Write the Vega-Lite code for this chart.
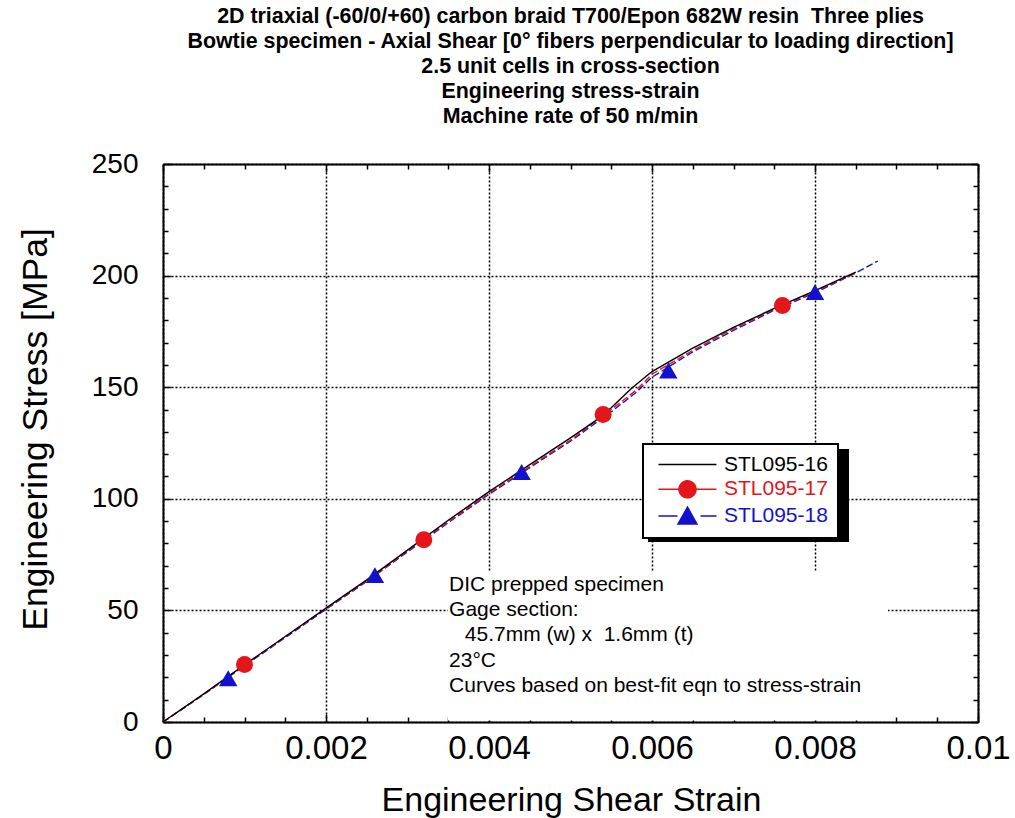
{
  "$schema": "https://vega.github.io/schema/vega-lite/v6.json",
  "width": 815,
  "height": 558,
  "autosize": {"type": "none"},
  "padding": {"left": 163, "top": 164, "right": 37, "bottom": 96},
  "background": "white",
  "config": {"view": {"stroke": null}, "font": "Liberation Sans"},
  "title": {
    "text": [
      "2D triaxial (-60/0/+60) carbon braid T700/Epon 682W resin\u00a0 Three plies",
      "Bowtie specimen - Axial Shear [0° fibers perpendicular to loading direction]",
      "2.5 unit cells in cross-section",
      "Engineering stress-strain",
      "Machine rate of 50 m/min"
    ],
    "font": "Liberation Sans",
    "fontSize": 21.4,
    "fontWeight": "bold",
    "lineHeight": 24.8,
    "anchor": "middle",
    "frame": "group",
    "offset": 23,
    "color": "black"
  },
  "datasets": {
    "curves": [
      {"series": "STL095-18", "strain": 0, "stress": 0},
      {"series": "STL095-18", "strain": 0.0005, "stress": 12.3},
      {"series": "STL095-18", "strain": 0.001, "stress": 25.2},
      {"series": "STL095-18", "strain": 0.0015, "stress": 37.8},
      {"series": "STL095-18", "strain": 0.002, "stress": 50.5},
      {"series": "STL095-18", "strain": 0.0025, "stress": 63},
      {"series": "STL095-18", "strain": 0.003, "stress": 76.2},
      {"series": "STL095-18", "strain": 0.0035, "stress": 89.3},
      {"series": "STL095-18", "strain": 0.004, "stress": 102},
      {"series": "STL095-18", "strain": 0.0045, "stress": 114},
      {"series": "STL095-18", "strain": 0.005, "stress": 125.8},
      {"series": "STL095-18", "strain": 0.0055, "stress": 139},
      {"series": "STL095-18", "strain": 0.0058, "stress": 147.5},
      {"series": "STL095-18", "strain": 0.006, "stress": 154.5},
      {"series": "STL095-18", "strain": 0.0065, "stress": 165.8},
      {"series": "STL095-18", "strain": 0.007, "stress": 175.5},
      {"series": "STL095-18", "strain": 0.0075, "stress": 184.5},
      {"series": "STL095-18", "strain": 0.008, "stress": 192.3},
      {"series": "STL095-18", "strain": 0.0085, "stress": 201.2},
      {"series": "STL095-18", "strain": 0.00877, "stress": 206.5},
      {"series": "STL095-17", "strain": 0, "stress": 0},
      {"series": "STL095-17", "strain": 0.0005, "stress": 12.4},
      {"series": "STL095-17", "strain": 0.001, "stress": 25.5},
      {"series": "STL095-17", "strain": 0.0015, "stress": 38.2},
      {"series": "STL095-17", "strain": 0.002, "stress": 50.8},
      {"series": "STL095-17", "strain": 0.0025, "stress": 63.3},
      {"series": "STL095-17", "strain": 0.003, "stress": 76.6},
      {"series": "STL095-17", "strain": 0.0035, "stress": 89.8},
      {"series": "STL095-17", "strain": 0.004, "stress": 102.5},
      {"series": "STL095-17", "strain": 0.0045, "stress": 114.5},
      {"series": "STL095-17", "strain": 0.005, "stress": 126.3},
      {"series": "STL095-17", "strain": 0.0055, "stress": 140},
      {"series": "STL095-17", "strain": 0.0058, "stress": 148.5},
      {"series": "STL095-17", "strain": 0.006, "stress": 155.8},
      {"series": "STL095-17", "strain": 0.0065, "stress": 166.5},
      {"series": "STL095-17", "strain": 0.007, "stress": 176.2},
      {"series": "STL095-17", "strain": 0.0075, "stress": 185},
      {"series": "STL095-17", "strain": 0.008, "stress": 192.8},
      {"series": "STL095-17", "strain": 0.0085, "stress": 201.3},
      {"series": "STL095-16", "strain": 0, "stress": 0},
      {"series": "STL095-16", "strain": 0.0005, "stress": 12.6},
      {"series": "STL095-16", "strain": 0.001, "stress": 25.6},
      {"series": "STL095-16", "strain": 0.0015, "stress": 38.3},
      {"series": "STL095-16", "strain": 0.002, "stress": 51},
      {"series": "STL095-16", "strain": 0.0025, "stress": 63.7},
      {"series": "STL095-16", "strain": 0.003, "stress": 77},
      {"series": "STL095-16", "strain": 0.0035, "stress": 90.4},
      {"series": "STL095-16", "strain": 0.004, "stress": 103.2},
      {"series": "STL095-16", "strain": 0.0045, "stress": 115.3},
      {"series": "STL095-16", "strain": 0.005, "stress": 127.3},
      {"series": "STL095-16", "strain": 0.0053, "stress": 134.8},
      {"series": "STL095-16", "strain": 0.0055, "stress": 140.8},
      {"series": "STL095-16", "strain": 0.00575, "stress": 149.5},
      {"series": "STL095-16", "strain": 0.006, "stress": 157},
      {"series": "STL095-16", "strain": 0.0065, "stress": 167.5},
      {"series": "STL095-16", "strain": 0.007, "stress": 176.8},
      {"series": "STL095-16", "strain": 0.0075, "stress": 185.3},
      {"series": "STL095-16", "strain": 0.008, "stress": 193.3},
      {"series": "STL095-16", "strain": 0.0085, "stress": 201.6}
    ],
    "markers": [
      {"series": "STL095-17", "strain": 0.001, "stress": 25.8},
      {"series": "STL095-17", "strain": 0.0032, "stress": 81.7},
      {"series": "STL095-17", "strain": 0.0054, "stress": 137.8},
      {"series": "STL095-17", "strain": 0.0076, "stress": 186.6},
      {"series": "STL095-18", "strain": 0.0008, "stress": 19.6},
      {"series": "STL095-18", "strain": 0.0026, "stress": 65.8},
      {"series": "STL095-18", "strain": 0.0044, "stress": 112},
      {"series": "STL095-18", "strain": 0.0062, "stress": 157.5},
      {"series": "STL095-18", "strain": 0.008, "stress": 192.6}
    ]
  },
  "layer": [
    {
      "data": {"values": [{}]},
      "mark": {"type": "rect", "fill": "white", "stroke": null},
      "encoding": {
        "x": {"datum": 0.003497, "type": "quantitative", "scale": {"domain": [0, 0.01], "nice": false, "zero": false}, "axis": null},
        "x2": {"datum": 0.008896},
        "y": {"datum": 0.7, "type": "quantitative", "scale": {"domain": [0, 250], "nice": false}, "axis": null},
        "y2": {"datum": 67.7}
      }
    },
    {
      "data": {"values": [{}]},
      "mark": {"type": "rect", "fill": "black", "stroke": null},
      "encoding": {
        "x": {"datum": 0.005951, "type": "quantitative", "axis": null},
        "x2": {"datum": 0.008417},
        "y": {"datum": 122.3, "type": "quantitative", "axis": null},
        "y2": {"datum": 80.6}
      }
    },
    {
      "data": {"values": [{}]},
      "mark": {
        "type": "text",
        "align": "left",
        "baseline": "middle",
        "font": "Liberation Sans",
        "fontSize": 21,
        "lineHeight": 25.25,
        "color": "black",
        "text": [
          "DIC prepped specimen",
          "Gage section:",
          "\u200b\u2002\u200545.7mm (w) x\u00a0 1.6mm (t)",
          "23°C",
          "Curves based on best-fit eqn to stress-strain"
        ]
      },
      "encoding": {
        "x": {"datum": 0.00351, "type": "quantitative", "axis": null},
        "y": {"datum": 61.4, "type": "quantitative", "axis": null}
      }
    },
    {
      "data": {"name": "curves"},
      "transform": [{"filter": "datum.series !== 'STL095-16'"}],
      "mark": {"type": "line", "strokeWidth": 1.4, "strokeDash": [7, 3]},
      "encoding": {
        "x": {"field": "strain", "type": "quantitative", "axis": null},
        "y": {"field": "stress", "type": "quantitative", "axis": null},
        "color": {"field": "series", "type": "nominal"}
      }
    },
    {
      "data": {"name": "curves"},
      "transform": [{"filter": "datum.series === 'STL095-16'"}],
      "mark": {"type": "line", "strokeWidth": 1.4},
      "encoding": {
        "x": {
          "field": "strain",
          "type": "quantitative",
          "axis": {
            "orient": "bottom",
            "values": [0, 0.0005, 0.001, 0.0015, 0.002, 0.0025, 0.003, 0.0035, 0.004, 0.0045, 0.005, 0.0055, 0.006, 0.0065, 0.007, 0.0075, 0.008, 0.0085, 0.009, 0.0095, 0.01],
            "format": ".3~f",
            "labelExpr": "abs(datum.value*500-round(datum.value*500))<0.001 ? datum.label : ''",
            "labelFont": "Liberation Sans",
            "labelFontSize": 33,
            "labelColor": "black",
            "labelPadding": 18,
            "labelFlush": false,
            "labelOverlap": false,
            "tickSize": {"condition": {"test": "abs(datum.value*500-round(datum.value*500))<0.001", "value": -8}, "value": -5},
            "tickColor": "black",
            "tickWidth": 1.5,
            "domainColor": "black",
            "domainWidth": 2,
            "grid": true,
            "gridColor": "black",
            "gridDash": [2, 2],
            "gridWidth": 1.5,
            "gridOpacity": {"condition": {"test": "abs(datum.value*500-round(datum.value*500))<0.001", "value": 1}, "value": 0},
            "title": "Engineering Shear Strain",
            "titleFont": "Liberation Sans",
            "titleFontSize": 34,
            "titleFontWeight": "normal",
            "titleColor": "black",
            "titleX": 408,
            "titleY": 78,
            "titleBaseline": "middle",
            "titleAlign": "center"
          }
        },
        "y": {
          "field": "stress",
          "type": "quantitative",
          "axis": {
            "orient": "left",
            "values": [0, 10, 20, 30, 40, 50, 60, 70, 80, 90, 100, 110, 120, 130, 140, 150, 160, 170, 180, 190, 200, 210, 220, 230, 240, 250],
            "labelExpr": "datum.value % 50 === 0 ? datum.label : ''",
            "labelFont": "Liberation Sans",
            "labelFontSize": 28,
            "labelColor": "black",
            "labelPadding": 33,
            "labelFlush": false,
            "labelOverlap": false,
            "tickSize": {"condition": {"test": "datum.value % 50 === 0", "value": -8}, "value": -5},
            "tickColor": "black",
            "tickWidth": 1.5,
            "domainColor": "black",
            "domainWidth": 2,
            "grid": true,
            "gridColor": "black",
            "gridDash": [2, 2],
            "gridWidth": 1.5,
            "gridOpacity": {"condition": {"test": "datum.value % 50 === 0", "value": 1}, "value": 0},
            "title": "Engineering Stress [MPa]",
            "titleFont": "Liberation Sans",
            "titleFontSize": 35.5,
            "titleFontWeight": "normal",
            "titleColor": "black",
            "titleX": -128,
            "titleY": 265,
            "titleAngle": -90,
            "titleBaseline": "middle",
            "titleAlign": "center"
          }
        },
        "color": {
          "field": "series",
          "type": "nominal",
          "scale": {"domain": ["STL095-16", "STL095-17", "STL095-18"], "range": ["#000000", "#e3161b", "#1212cc"]},
          "legend": {
            "orient": "none",
            "legendX": 480,
            "legendY": 280,
            "title": null,
            "fillColor": "white",
            "strokeColor": "black",
            "padding": 10,
            "rowPadding": 2.8,
            "symbolSize": 100,
            "symbolOffset": 24,
            "labelOffset": 26,
            "labelFont": "Liberation Sans",
            "labelFontSize": 21,
            "labelLimit": 300,
            "symbolDash": [1, 0],
            "encode": {
              "symbols": {
                "update": {
                  "shape": {"signal": "datum.value === 'STL095-16' ? 'M-5.8,0H5.8' : datum.value === 'STL095-17' ? 'M-5.8,0H5.8M1.7,0A1.7,1.7,0,1,1,-1.7,0A1.7,1.7,0,1,1,1.7,0Z' : 'M-5.8,0H-2M2.6,0H5.8M-1.9,1.6L0,-1.8L1.9,1.6Z'"},
                  "fill": {"scale": "color", "field": "value"},
                  "stroke": {"scale": "color", "field": "value"},
                  "strokeWidth": {"value": 1.5},
                  "strokeDash": {"value": [1, 0]},
                  "opacity": {"value": 1},
                  "fillOpacity": {"value": 1}
                }
              },
              "labels": {"update": {"fill": {"scale": "color", "field": "value"}}},
              "legend": {"update": {"strokeWidth": {"value": 2}}}
            }
          }
        }
      }
    },
    {
      "data": {"name": "markers"},
      "transform": [{"filter": "datum.series === 'STL095-17'"}],
      "mark": {"type": "point", "shape": "circle", "filled": true, "opacity": 1, "size": 289},
      "encoding": {
        "x": {
          "field": "strain",
          "type": "quantitative",
          "axis": {
            "orient": "top",
            "values": [0, 0.0005, 0.001, 0.0015, 0.002, 0.0025, 0.003, 0.0035, 0.004, 0.0045, 0.005, 0.0055, 0.006, 0.0065, 0.007, 0.0075, 0.008, 0.0085, 0.009, 0.0095, 0.01],
            "labels": false,
            "grid": false,
            "title": null,
            "tickSize": {"condition": {"test": "abs(datum.value*500-round(datum.value*500))<0.001", "value": -8}, "value": -5},
            "tickColor": "black",
            "tickWidth": 1.5,
            "domainColor": "black",
            "domainWidth": 2
          }
        },
        "y": {
          "field": "stress",
          "type": "quantitative",
          "axis": {
            "orient": "right",
            "values": [0, 10, 20, 30, 40, 50, 60, 70, 80, 90, 100, 110, 120, 130, 140, 150, 160, 170, 180, 190, 200, 210, 220, 230, 240, 250],
            "labels": false,
            "grid": false,
            "title": null,
            "tickSize": {"condition": {"test": "datum.value % 50 === 0", "value": -8}, "value": -5},
            "tickColor": "black",
            "tickWidth": 1.5,
            "domainColor": "black",
            "domainWidth": 2
          }
        },
        "color": {"field": "series", "type": "nominal"}
      }
    },
    {
      "data": {"name": "markers"},
      "transform": [{"filter": "datum.series === 'STL095-18'"}],
      "mark": {"type": "point", "shape": "triangle-up", "filled": true, "opacity": 1, "size": 340},
      "encoding": {
        "x": {"field": "strain", "type": "quantitative", "axis": null},
        "y": {"field": "stress", "type": "quantitative", "axis": null},
        "color": {"field": "series", "type": "nominal"}
      }
    }
  ],
  "resolve": {"axis": {"x": "independent", "y": "independent"}}
}
